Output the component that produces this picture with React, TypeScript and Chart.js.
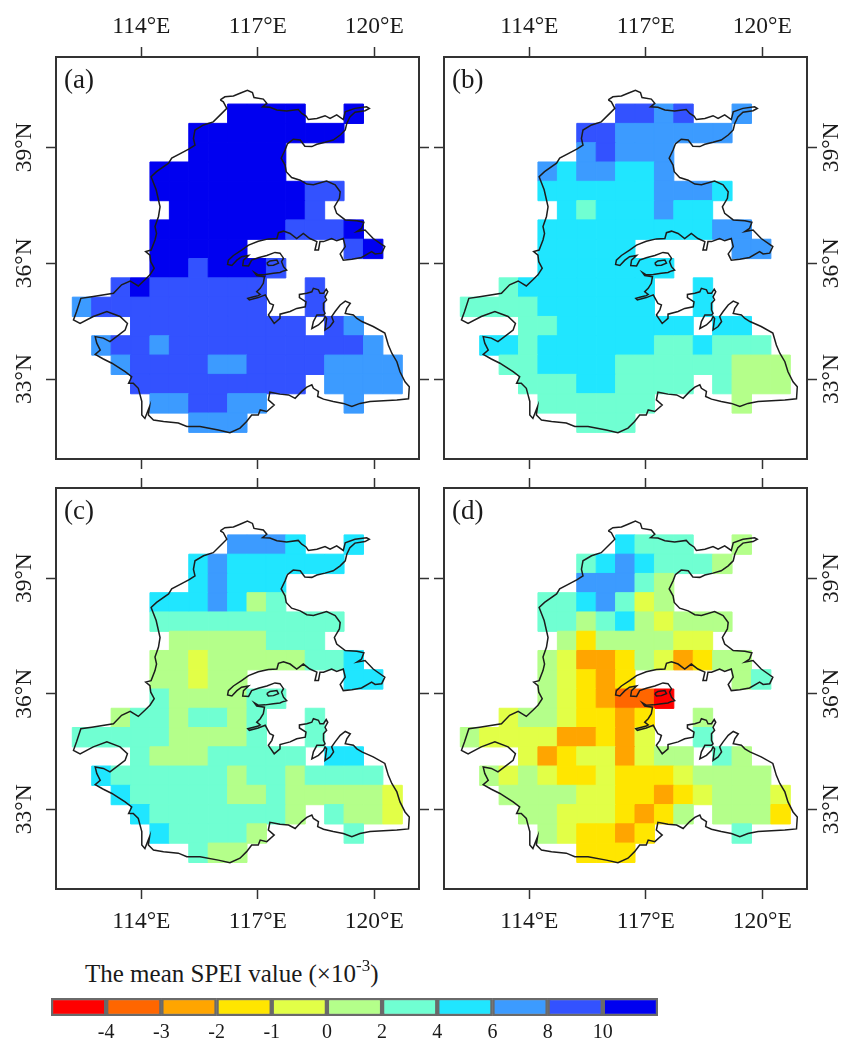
import React, { useEffect, useRef } from "react";
import { Chart, registerables } from "chart.js";

Chart.register(...registerables);

const FONT = "'Liberation Serif', 'Times New Roman', serif";

// SPEI classes (x10^-3), from lowest to highest
const classColors = ["#FF0000", "#FF6600", "#FFA500", "#FFE600", "#E2FF47", "#B4FF8A", "#70FFD2", "#20E6FF", "#3C9BFF", "#3352FF", "#0000F0"];
const classBreaks = ["-4", "-3", "-2", "-1", "0", "2", "4", "6", "8", "10"];

// grid of 0.5 degree cells: first column centre and first row centre
const firstLon = 112.47;
const firstLat = 39.87;
const lonTicks = [114, 117, 120];
const latTicks = [33, 36, 39];

// each character is the class index of a cell ('a' = 10, '.' = no data)
const panelA = [
  "........aaaa..a...",
  "......aaaaaaaa....",
  "......aaaaa.......",
  "....aaaaaaa.......",
  "....aaaaaaaa99....",
  ".....aaaaaaa9.....",
  "....aaaaaaa999a...",
  "....aaaaa.....9a..",
  "....aa9aaa9.......",
  "..9a999999..9.....",
  "8999999999..9.....",
  "...999999999.98...",
  ".899899999999998..",
  "..899998899998888.",
  "...999999999.8888.",
  "....889988....8...",
  "......888.........",
];
const panelB = [
  "........9989..8...",
  "......99888888....",
  "......89888.......",
  "....8788778.......",
  "....7777778887....",
  ".....76777877.....",
  "....77777777788...",
  "....77777.....88..",
  "....7777777.......",
  "..67777777..7.....",
  "6666777777..7.....",
  "...667777777.77...",
  ".776777777667666..",
  "..667777666666555.",
  "...666776666.6555.",
  "....666666....5...",
  "......666.........",
];
const panelC = [
  "........8887..7...",
  "......78777777....",
  "......78777.......",
  "....7778756.......",
  "....6666666666....",
  ".....55555666.....",
  "....55455555667...",
  "....55455.....77..",
  "....6555566.......",
  "..56656656..6.....",
  "6666655556..6.....",
  "...655566666.77...",
  ".766666656656666..",
  "..766666556555554.",
  "...766666665.6554.",
  "....766665....6...",
  "......655.........",
];
const panelD = [
  "........7666..5...",
  "......67876665....",
  "......88865.......",
  "....6678645.......",
  "....6656754555....",
  ".....53555544.....",
  "....54223542355...",
  "....54323.....56..",
  "....5432110.......",
  "..45543323..5.....",
  "5444422324..6.....",
  "...423442455.65...",
  ".545433433345555..",
  "..555544332345554.",
  "...554443235.5553.",
  "....543323....6...",
  "......333.........",
];

// basin boundary, [lon, lat]
const boundary: number[][] = [
  [116.03,40.23],[116.15,40.31],[116.37,40.33],[116.54,40.40],[116.73,40.48],[116.86,40.42],[116.90,40.29],[117.14,40.25],[117.23,40.14],[117.12,40.05],
  [117.31,40.04],[117.49,39.97],[117.74,39.94],[118.04,39.98],[118.13,39.88],[118.24,39.81],[118.30,39.72],[118.52,39.75],[118.73,39.82],[118.86,39.75],
  [119.03,39.84],[119.20,39.72],[119.25,39.92],[119.50,40.01],[119.80,40.05],[119.87,40.01],[119.76,39.95],[119.50,39.91],[119.37,39.79],[119.29,39.62],
  [119.25,39.45],[119.12,39.32],[118.94,39.19],[118.73,39.13],[118.52,39.08],[118.39,39.02],[118.21,39.03],[118.09,39.19],[117.91,39.21],[117.76,39.09],
  [117.70,38.93],[117.60,38.72],[117.70,38.54],[117.73,38.37],[117.87,38.22],[118.09,38.15],[118.26,38.05],[118.43,38.03],[118.77,38.13],[118.99,38.03],
  [119.12,37.85],[119.10,37.68],[118.97,37.46],[119.03,37.29],[119.25,37.12],[119.55,37.10],[119.73,37.06],[119.67,36.90],[119.55,36.82],[119.76,36.86],
  [119.97,36.64],[120.27,36.43],[120.19,36.26],[120.02,36.24],[119.93,36.30],[119.67,36.15],[119.42,36.10],[119.20,36.08],[119.12,36.24],[119.25,36.43],
  [119.20,36.64],[119.03,36.58],[118.90,36.64],[118.69,36.56],[118.60,36.56],[118.56,36.34],[118.47,36.34],[118.52,36.56],[118.34,36.64],[118.17,36.77],
  [118.00,36.64],[117.83,36.77],[117.66,36.83],[117.53,36.79],[117.49,36.64],[117.27,36.63],[117.01,36.57],[116.76,36.47],[116.58,36.34],[116.37,36.20],
  [116.24,36.08],[116.22,35.97],[116.33,35.94],[116.46,36.08],[116.58,36.17],[116.76,36.20],[116.63,36.08],[116.61,35.94],[116.76,35.93],[116.84,36.08],
  [117.01,36.14],[117.23,36.20],[117.44,36.28],[117.57,36.26],[117.66,36.13],[117.61,36.04],[117.66,35.91],[117.74,35.82],[117.66,35.80],[117.57,35.76],
  [117.40,35.74],[117.19,35.71],[117.01,35.70],[116.91,35.76],[116.97,35.68],[117.17,35.65],[117.14,35.48],[117.06,35.35],[116.97,35.26],[117.06,35.19],
  [117.01,35.16],[116.89,35.13],[116.74,35.09],[116.78,35.05],[117.01,35.11],[117.19,35.18],[117.25,35.07],[117.31,34.96],[117.40,34.92],[117.36,34.79],
  [117.27,34.66],[117.42,34.44],[117.57,34.57],[117.57,34.68],[117.83,34.75],[118.00,34.83],[118.22,34.87],[118.24,35.00],[118.07,35.11],[118.07,35.19],
  [118.26,35.22],[118.39,35.26],[118.43,35.35],[118.56,35.31],[118.60,35.22],[118.69,35.22],[118.76,35.33],[118.80,35.26],[118.73,35.13],[118.77,35.05],
  [118.69,34.96],[118.69,34.79],[118.73,34.70],[118.69,34.66],[118.52,34.66],[118.43,34.49],[118.39,34.31],[118.56,34.40],[118.69,34.53],[118.73,34.62],
  [118.77,34.57],[118.73,34.27],[118.86,34.36],[118.95,34.49],[118.90,34.62],[118.99,34.75],[119.12,34.92],[119.25,35.02],[119.38,34.96],[119.29,34.83],
  [119.25,34.70],[119.46,34.66],[119.55,34.57],[119.68,34.49],[119.97,34.36],[120.27,34.19],[120.36,33.88],[120.45,33.67],[120.58,33.45],[120.66,33.19],
  [120.79,32.93],[120.90,32.80],[120.88,32.49],[120.58,32.46],[119.89,32.42],[119.63,32.37],[119.42,32.29],[119.20,32.37],[118.94,32.42],[118.69,32.48],
  [118.54,32.55],[118.56,32.68],[118.43,32.76],[118.39,32.85],[118.26,32.79],[118.13,32.68],[117.96,32.50],[117.79,32.59],[117.57,32.61],[117.31,32.66],
  [117.27,32.46],[117.42,32.33],[117.23,32.16],[117.06,32.20],[117.01,32.07],[116.84,32.07],[116.71,31.90],[116.54,31.73],[116.28,31.61],[115.98,31.68],
  [115.51,31.77],[115.17,31.77],[114.95,31.86],[114.57,31.90],[114.31,31.94],[114.18,32.07],[114.21,32.29],[114.09,31.98],[114.01,32.07],[114.01,32.42],
  [113.97,32.57],[113.92,32.76],[113.79,32.89],[113.67,32.89],[113.75,33.06],[113.58,33.19],[113.24,33.41],[113.02,33.52],[112.81,33.64],[112.94,33.75],
  [112.85,33.93],[112.81,34.10],[113.02,34.06],[113.19,33.97],[113.41,34.14],[113.58,34.27],[113.64,34.44],[113.45,34.62],[113.11,34.75],[112.76,34.62],
  [112.42,34.44],[112.25,34.53],[112.33,34.75],[112.44,35.09],[112.72,35.13],[113.28,35.22],[113.49,35.44],[113.71,35.54],[113.92,35.41],[114.09,35.57],
  [114.22,35.70],[114.33,35.87],[114.24,36.04],[114.22,36.21],[114.11,36.30],[114.25,36.34],[114.35,36.60],[114.39,36.77],[114.35,36.95],[114.44,37.21],
  [114.48,37.46],[114.38,37.90],[114.25,38.24],[114.39,38.37],[114.70,38.59],[114.78,38.72],[115.00,38.84],[115.23,38.96],[115.38,39.06],[115.34,39.23],
  [115.38,39.45],[115.60,39.58],[115.85,39.66],[116.07,39.88],[116.20,40.01],[116.11,40.18],[116.03,40.23],
];
const lake: number[][] = [
  [117.23,36.00],[117.31,36.06],[117.49,36.08],[117.53,36.00],[117.40,35.95],[117.27,35.94],[117.23,36.00],
];

const lonRange = [111.8, 121.15];
const latRange = [30.93, 41.34];

type PanelCfg = {
  name: string; rows: string[]; left: number; top: number; width: number; height: number;
  axLeft: number; axRight: number; axTop: number; axBottom: number;
  labelTop: boolean; labelBottom: boolean; labelLeft: boolean; labelRight: boolean;
};

const panels: PanelCfg[] = [
  { name: "(a)", rows: panelA, left: 0, top: 0, width: 432, height: 472, axLeft: 56, axRight: 13, axTop: 57, axBottom: 13, labelTop: true, labelBottom: false, labelLeft: true, labelRight: false },
  { name: "(b)", rows: panelB, left: 432, top: 0, width: 418, height: 472, axLeft: 12, axRight: 43, axTop: 57, axBottom: 13, labelTop: true, labelBottom: false, labelLeft: false, labelRight: true },
  { name: "(c)", rows: panelC, left: 0, top: 472, width: 432, height: 488, axLeft: 56, axRight: 13, axTop: 16, axBottom: 71, labelTop: false, labelBottom: true, labelLeft: true, labelRight: false },
  { name: "(d)", rows: panelD, left: 432, top: 472, width: 418, height: 488, axLeft: 12, axRight: 43, axTop: 16, axBottom: 71, labelTop: false, labelBottom: true, labelLeft: false, labelRight: true },
];

const FRAME = "#333333";
const TEXT = "#1a1a1a";

function axis(axisId: "x" | "y", position: string, size: number, showLabels: boolean, pad: number, rotated: boolean) {
  const isX = axisId === "x";
  const values = isX ? lonTicks : latTicks;
  return {
    type: "linear",
    axis: axisId,
    position,
    min: isX ? lonRange[0] : latRange[0],
    max: isX ? lonRange[1] : latRange[1],
    afterBuildTicks: (s: any) => { s.ticks = values.map((value) => ({ value })); },
    afterFit: (s: any) => { if (isX) s.height = size; else s.width = size; },
    border: { display: true, color: FRAME, width: 2 },
    grid: { display: true, drawOnChartArea: false, drawTicks: true, tickLength: 10, tickColor: FRAME, tickWidth: 1.5, color: FRAME },
    ticks: {
      display: showLabels,
      padding: pad,
      color: TEXT,
      font: { family: FONT, size: 23.5 },
      autoSkip: false,
      ...(rotated ? { minRotation: 90, maxRotation: 90, crossAlign: "center" } : { maxRotation: 0 }),
      callback: (v: any) => `${v}°${isX ? "E" : "N"}`,
    },
  };
}

const panelLabel = {
  id: "panelLabel",
  afterDraw(chart: any, _a: any, opts: any) {
    const { ctx, chartArea } = chart;
    ctx.save();
    ctx.font = `27px ${FONT}`;
    ctx.fillStyle = TEXT;
    ctx.textAlign = "left";
    ctx.textBaseline = "alphabetic";
    ctx.fillText(opts.text, chartArea.left + 8, chartArea.top + 31);
    ctx.restore();
  },
};

function cellsOf(rows: string[]) {
  const pts: any[] = [];
  const colors: string[] = [];
  rows.forEach((row, r) => {
    [...row].forEach((ch, c) => {
      if (ch === ".") return;
      const k = parseInt(ch, 16);
      pts.push({ x: firstLon + 0.5 * c, y: firstLat - 0.5 * r });
      colors.push(classColors[k]);
    });
  });
  return { pts, colors };
}

function Panel({ cfg }: { cfg: PanelCfg }) {
  const ref = useRef<HTMLCanvasElement>(null);
  useEffect(() => {
    const { pts, colors } = cellsOf(cfg.rows);
    const line = (d: number[][]) => d.map(([x, y]) => ({ x, y }));
    const chart = new Chart(ref.current!, {
      type: "scatter",
      data: {
        datasets: [
          { label: "boundary", data: line(boundary), showLine: true, borderColor: "#1c1c1c", borderWidth: 1.5, pointRadius: 0, tension: 0, xAxisID: "x", yAxisID: "y" },
          { label: "lake", data: line(lake), showLine: true, borderColor: "#1c1c1c", borderWidth: 1.5, pointRadius: 0, tension: 0, xAxisID: "x", yAxisID: "y" },
          {
            label: "SPEI",
            data: pts,
            pointStyle: "rect",
            pointBackgroundColor: colors,
            pointBorderColor: colors,
            pointBorderWidth: 1,
            pointRadius: (c: any) => {
              const s = c.chart.scales.x;
              return (s.getPixelForValue(0.5 + lonRange[0]) - s.getPixelForValue(lonRange[0])) / Math.SQRT2;
            },
            xAxisID: "x",
            yAxisID: "y",
          },
        ],
      },
      options: {
        responsive: false,
        animation: false,
        events: [],
        layout: { padding: 0, autoPadding: false },
        plugins: { legend: { display: false }, tooltip: { enabled: false }, panelLabel: { text: cfg.name } },
        scales: {
          x: axis("x", "bottom", cfg.axBottom, cfg.labelBottom, 9, false),
          xTop: axis("x", "top", cfg.axTop, cfg.labelTop, 6, false),
          y: axis("y", "left", cfg.axLeft, cfg.labelLeft, -4, true),
          yRight: axis("y", "right", cfg.axRight, cfg.labelRight, -10, true),
        },
      } as any,
      plugins: [panelLabel as any],
    } as any);
    return () => chart.destroy();
  }, [cfg]);
  return (
    <canvas
      ref={ref}
      width={cfg.width}
      height={cfg.height}
      style={{ position: "absolute", left: cfg.left, top: cfg.top, width: cfg.width, height: cfg.height }}
    />
  );
}

function ColorBar() {
  const ref = useRef<HTMLCanvasElement>(null);
  useEffect(() => {
    const chart = new Chart(ref.current!, {
      type: "bar",
      data: {
        datasets: [
          {
            data: classColors.map((_, i) => ({ x: i + 0.5, y: 1 })),
            backgroundColor: classColors,
            borderColor: "#6a6a6a",
            borderWidth: 2.5,
            borderSkipped: false,
            barPercentage: 1,
            categoryPercentage: 1,
          },
        ],
      },
      options: {
        responsive: false,
        animation: false,
        events: [],
        layout: { padding: { left: 11, right: 12, top: 8, bottom: 0 }, autoPadding: false },
        plugins: { legend: { display: false }, tooltip: { enabled: false } },
        scales: {
          x: {
            type: "linear",
            offset: false,
            min: 0,
            max: classColors.length,
            afterBuildTicks: (s: any) => { s.ticks = classBreaks.map((_, i) => ({ value: i + 1 })); },
            afterFit: (s: any) => { s.height = 24; },
            border: { display: false },
            grid: { display: false, drawTicks: false },
            ticks: {
              autoSkip: false,
              maxRotation: 0,
              padding: 5,
              color: TEXT,
              font: { family: FONT, size: 20 },
              callback: (_v: any, i: number) => classBreaks[i],
            },
          },
          y: { display: false, min: 0, max: 1 },
        },
      } as any,
    } as any);
    return () => chart.destroy();
  }, []);
  return (
    <canvas ref={ref} width={630} height={50} style={{ position: "absolute", left: 40, top: 990, width: 630, height: 50 }} />
  );
}

export default function App() {
  return (
    <div style={{ position: "absolute", left: 0, top: 0, width: 850, height: 1040, background: "#fff", overflow: "hidden" }}>
      {panels.map((p) => (
        <Panel key={p.name} cfg={p} />
      ))}
      <ColorBar />
      <div style={{ position: "absolute", left: 85, top: 960, fontFamily: FONT, fontSize: 25, lineHeight: "28px", color: TEXT, whiteSpace: "nowrap" }}>
        The mean SPEI value (×10<sup style={{ fontSize: 17, lineHeight: 0, position: "relative", top: -2 }}>-3</sup>)
      </div>
    </div>
  );
}
